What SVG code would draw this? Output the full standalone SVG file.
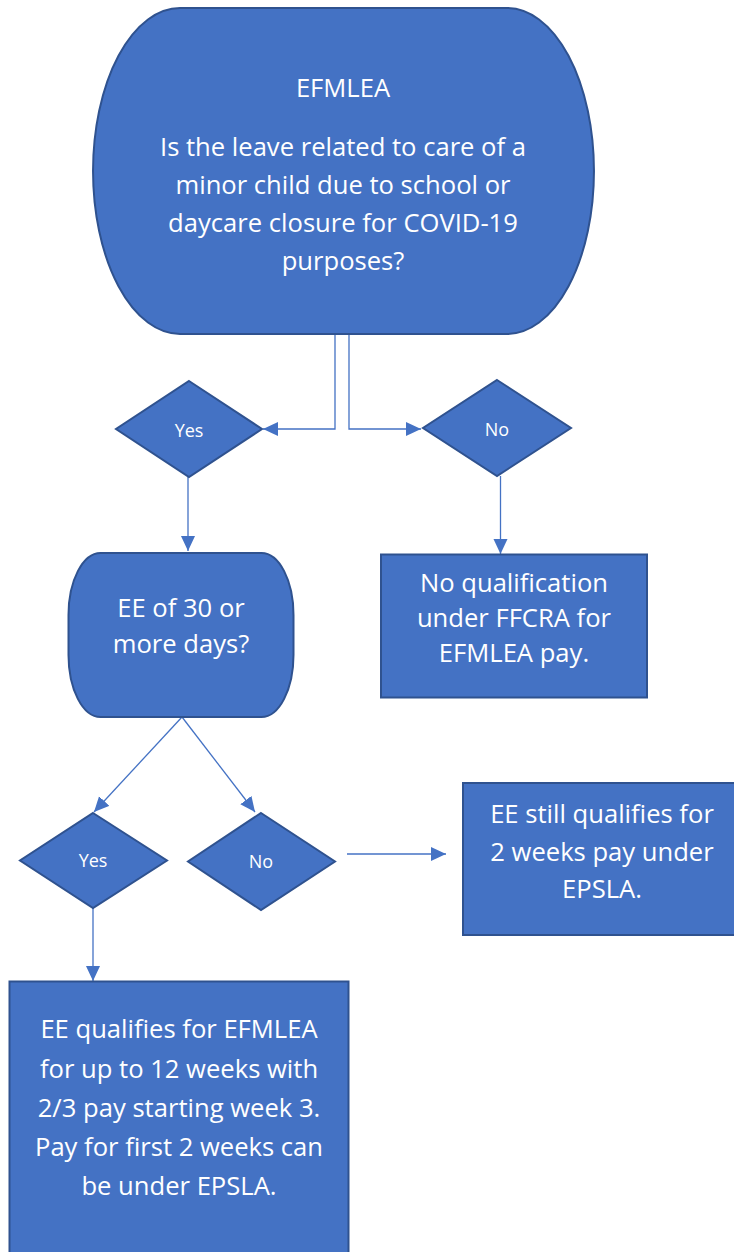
<svg xmlns="http://www.w3.org/2000/svg" width="734" height="1252" viewBox="0 0 734 1252">
<style>
.shape{fill:#4472C4;stroke:#2F528F;stroke-width:2}
.t{font-family:"Open Sans","Liberation Sans",sans-serif;font-size:25.6px;fill:#ffffff;text-anchor:middle}
.s{font-family:"Open Sans","Liberation Sans",sans-serif;font-size:18px;fill:#ffffff;text-anchor:middle}
.c{fill:none;stroke:#4472C4;stroke-width:1.3}
</style>
<defs>
<marker id="arr" markerUnits="userSpaceOnUse" markerWidth="16" markerHeight="15" refX="15" refY="7" orient="auto">
<path d="M0,0 L15,7 L0,14 Z" fill="#4472C4"/>
</marker>
</defs>
<rect width="734" height="1252" fill="#ffffff"/>
<g id="connectors">
<path class="c" d="M335,334 V429 H263" marker-end="url(#arr)"/>
<path class="c" d="M349,334 V429 H421" marker-end="url(#arr)"/>
<path class="c" d="M188,477 V551" marker-end="url(#arr)"/>
<path class="c" d="M500.5,476 V554" marker-end="url(#arr)"/>
<path class="c" d="M182,717 L94,812" marker-end="url(#arr)"/>
<path class="c" d="M182,717 L255,812" marker-end="url(#arr)"/>
<path class="c" d="M347,854 H446" marker-end="url(#arr)"/>
<path class="c" d="M93,908 V981" marker-end="url(#arr)"/>
</g>
<g id="start">
<path class="shape" d="M180,8 H507 A87,163 0 0 1 507,334 H180 A87,163 0 0 1 180,8 Z"/>
<text class="t" x="343" y="97">EFMLEA</text>
<text class="t" x="343" y="156">Is the leave related to care of a</text>
<text class="t" x="343" y="194">minor child due to school or</text>
<text class="t" x="343" y="232">daycare closure for COVID-19</text>
<text class="t" x="343" y="270">purposes?</text>
</g>
<g id="yes1">
<polygon class="shape" points="189,381 262,429 189,477 116,429"/>
<text class="s" x="189" y="437">Yes</text>
</g>
<g id="no1">
<polygon class="shape" points="497,380 571,428 497,476 423,428"/>
<text class="s" x="497" y="436">No</text>
</g>
<g id="ee30">
<rect class="shape" x="68.5" y="553" width="225" height="164" rx="32" ry="62"/>
<text class="t" x="181" y="617">EE of 30 or</text>
<text class="t" x="181" y="653">more days?</text>
</g>
<g id="noqual">
<rect class="shape" x="381" y="554.5" width="266" height="143"/>
<text class="t" x="514" y="592">No qualification</text>
<text class="t" x="514" y="627">under FFCRA for</text>
<text class="t" x="514" y="662">EFMLEA pay.</text>
</g>
<g id="yes2">
<polygon class="shape" points="93,813 167,860.5 93,908 20,860.5"/>
<text class="s" x="93" y="867">Yes</text>
</g>
<g id="no2">
<polygon class="shape" points="261,813 335,861.5 261,910 188,861.5"/>
<text class="s" x="261" y="868">No</text>
</g>
<g id="epsla">
<rect class="shape" x="463" y="783" width="280" height="152"/>
<text class="t" x="602" y="823">EE still qualifies for</text>
<text class="t" x="602" y="861">2 weeks pay under</text>
<text class="t" x="602" y="898">EPSLA.</text>
</g>
<g id="qualifies">
<rect class="shape" x="9.5" y="981.5" width="339" height="285"/>
<text class="t" x="179" y="1038">EE qualifies for EFMLEA</text>
<text class="t" x="179" y="1078">for up to 12 weeks with</text>
<text class="t" x="179" y="1117">2/3 pay starting week 3.</text>
<text class="t" x="179" y="1156">Pay for first 2 weeks can</text>
<text class="t" x="179" y="1195">be under EPSLA.</text>
</g>
</svg>
